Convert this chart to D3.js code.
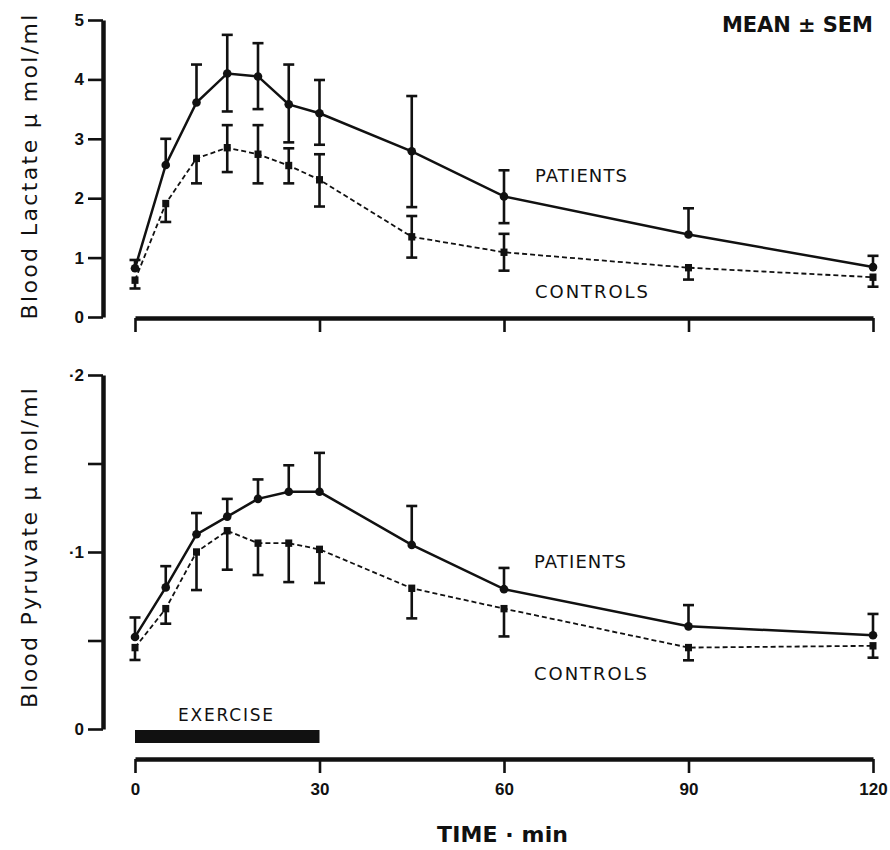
<!DOCTYPE html>
<html>
<head>
<meta charset="utf-8">
<script src="https://cdn.jsdelivr.net/npm/d3@7"></script>
<style>
  body { margin: 0; background: #fff; }
  svg text { font-family: "Liberation Sans", Arial, Helvetica, sans-serif; fill: #111; }
  svg text.wide { font-family: "DejaVu Sans", "Liberation Sans", Arial, sans-serif; }
</style>
</head>
<body>
<svg class="main" width="890" height="850"></svg>
<script>
// sampling times (min)
var times = [0, 5, 10, 15, 20, 25, 30, 45, 60, 90, 120]
var timeTicks = [0, 30, 60, 90, 120]

// blood lactate, umol/ml (mean, error bar up / down as drawn)
var lactatePatients     = [0.82, 2.56, 3.61, 4.10, 4.05, 3.58, 3.43, 2.79, 2.03, 1.39, 0.84]
var lactatePatientsUp   = [0.14, 0.44, 0.64, 0.65, 0.56, 0.67, 0.56, 0.93, 0.44, 0.44, 0.19]
var lactatePatientsDown = [0, 0, 0, 0.64, 0.55, 0.64, 0.53, 0.94, 0.45, 0, 0]
var lactateControls     = [0.62, 1.91, 2.67, 2.85, 2.74, 2.55, 2.31, 1.35, 1.09, 0.83, 0.67]
var lactateControlsUp   = [0, 0, 0, 0.38, 0.49, 0.29, 0.43, 0.35, 0.31, 0, 0]
var lactateControlsDown = [0.14, 0.31, 0.42, 0.41, 0.49, 0.30, 0.45, 0.35, 0.31, 0.20, 0.16]
var lactateTicks = [0, 1, 2, 3, 4, 5]

// blood pyruvate, umol/ml
var pyruvatePatients     = [0.052, 0.080, 0.110, 0.120, 0.130, 0.134, 0.134, 0.104, 0.079, 0.058, 0.053]
var pyruvatePatientsUp   = [0.011, 0.012, 0.012, 0.010, 0.011, 0.015, 0.022, 0.022, 0.012, 0.012, 0.012]
var pyruvateControls     = [0.046, 0.068, 0.100, 0.112, 0.105, 0.105, 0.1015, 0.0795, 0.068, 0.046, 0.047]
var pyruvateControlsDown = [0.007, 0.0085, 0.0215, 0.022, 0.018, 0.022, 0.019, 0.017, 0.0157, 0.0072, 0.0067]
var pyruvateTicks = [0, 0.05, 0.1, 0.15, 0.2]
var pyruvateTickLabels = ['0', '', '·1', '', '·2']

var svg = d3.select('svg.main')

// scales
const xScale = d3.scaleLinear().domain([0, 120]).range([135, 873])
const yLac = d3.scaleLinear().domain([0, 5]).range([317, 20])
const yPyr = d3.scaleLinear().domain([0, 0.2]).range([729, 375])

function styleAxis(g, domainWidth) {
  g.selectAll('.domain').attr('stroke', '#111').attr('stroke-width', domainWidth)
  g.selectAll('.tick line').attr('stroke', '#111').attr('stroke-width', 2.6)
  g.selectAll('.tick text')
    .attr('fill', '#111')
    .attr('font-size', 17)
    .attr('font-weight', 'bold')
}

// y axes
var yAxisTop = svg.append('g')
  .attr('transform', 'translate(103,0)')
  .call(d3.axisLeft(yLac).tickValues(lactateTicks).tickSize(15).tickSizeOuter(0).tickPadding(4)
    .tickFormat(d3.format('d')))
styleAxis(yAxisTop, 4.5)

var yAxisBot = svg.append('g')
  .attr('transform', 'translate(103,0)')
  .call(d3.axisLeft(yPyr).tickValues(pyruvateTicks).tickSize(15).tickSizeOuter(0).tickPadding(4)
    .tickFormat((d, i) => pyruvateTickLabels[i]))
styleAxis(yAxisBot, 4.5)

// x axes
var xAxisTop = svg.append('g')
  .attr('transform', 'translate(0,318)')
  .call(d3.axisBottom(xScale).tickValues(timeTicks).tickSize(14).tickSizeOuter(0).tickFormat(''))
styleAxis(xAxisTop, 4.5)

var xAxisBot = svg.append('g')
  .attr('transform', 'translate(0,759)')
  .call(d3.axisBottom(xScale).tickValues(timeTicks).tickSize(14).tickSizeOuter(0).tickPadding(10))
styleAxis(xAxisBot, 4.5)

// exercise bar (0 - 30 min)
svg.append('rect')
  .attr('x', xScale(0))
  .attr('y', 730)
  .attr('width', xScale(30) - xScale(0))
  .attr('height', 13)
  .attr('fill', '#111')

// draw one series with error bars
function drawSeries(yScale, means, up, down, dashed, marker) {
  var pts = times.map((t, i) => ({t: t, v: means[i], up: up ? up[i] : 0, down: down ? down[i] : 0}))
  var g = svg.append('g')

  g.append('path')
    .datum(pts)
    .attr('fill', 'none')
    .attr('stroke', '#111')
    .attr('stroke-width', dashed ? 1.8 : 2.5)
    .attr('stroke-dasharray', dashed ? '5,3' : null)
    .attr('d', d3.line().x(d => xScale(d.t)).y(d => yScale(d.v)))

  // error bars
  var eb = g.selectAll('g.err').data(pts).join('g').attr('class', 'err')
  eb.filter(d => d.up > 0).append('line')
    .attr('x1', d => xScale(d.t)).attr('x2', d => xScale(d.t))
    .attr('y1', d => yScale(d.v)).attr('y2', d => yScale(d.v + d.up))
  eb.filter(d => d.up > 0).append('line')
    .attr('x1', d => xScale(d.t) - 5.5).attr('x2', d => xScale(d.t) + 5.5)
    .attr('y1', d => yScale(d.v + d.up)).attr('y2', d => yScale(d.v + d.up))
  eb.filter(d => d.down > 0).append('line')
    .attr('x1', d => xScale(d.t)).attr('x2', d => xScale(d.t))
    .attr('y1', d => yScale(d.v)).attr('y2', d => yScale(d.v - d.down))
  eb.filter(d => d.down > 0).append('line')
    .attr('x1', d => xScale(d.t) - 5.5).attr('x2', d => xScale(d.t) + 5.5)
    .attr('y1', d => yScale(d.v - d.down)).attr('y2', d => yScale(d.v - d.down))
  eb.selectAll('line').attr('stroke', '#111').attr('stroke-width', 2.6)

  // markers
  if (marker == 'circle') {
    g.selectAll('circle').data(pts).join('circle')
      .attr('cx', d => xScale(d.t)).attr('cy', d => yScale(d.v))
      .attr('r', 4.3).attr('fill', '#111')
  } else {
    g.selectAll('rect').data(pts).join('rect')
      .attr('x', d => xScale(d.t) - 3.5).attr('y', d => yScale(d.v) - 3.7)
      .attr('width', 7).attr('height', 7.4).attr('fill', '#111')
  }
}

drawSeries(yLac, lactatePatients, lactatePatientsUp, lactatePatientsDown, false, 'circle')
drawSeries(yLac, lactateControls, lactateControlsUp, lactateControlsDown, true, 'square')
drawSeries(yPyr, pyruvatePatients, pyruvatePatientsUp, null, false, 'circle')
drawSeries(yPyr, pyruvateControls, null, pyruvateControlsDown, true, 'square')

// labels
function label(txt, x, y, size, weight, len, cls) {
  return svg.append('text')
    .attr('class', cls || null)
    .attr('x', x).attr('y', y)
    .attr('font-size', size)
    .attr('font-weight', weight)
    .attr('textLength', len)
    .attr('lengthAdjust', 'spacing')
    .text(txt)
}

label('MEAN ± SEM', 722, 32, 21, 'bold', 151, 'wide')
label('PATIENTS', 535, 182, 18, 'normal', 92, 'wide')
label('CONTROLS', 535, 298, 18, 'normal', 113, 'wide')
label('PATIENTS', 534, 568, 18, 'normal', 92, 'wide')
label('CONTROLS', 534, 680, 18, 'normal', 113, 'wide')
label('EXERCISE', 178, 721, 17, 'normal', 95, 'wide')
label('TIME · min', 437, 842, 22, 'bold', 131, 'wide')

svg.append('text')
  .attr('class', 'wide')
  .attr('transform', 'translate(37,167) rotate(-90)')
  .attr('text-anchor', 'middle')
  .attr('font-size', 22)
  .attr('textLength', 305)
  .attr('lengthAdjust', 'spacing')
  .text('Blood Lactate  μ mol/ml')

svg.append('text')
  .attr('class', 'wide')
  .attr('transform', 'translate(37,548) rotate(-90)')
  .attr('text-anchor', 'middle')
  .attr('font-size', 22)
  .attr('textLength', 320)
  .attr('lengthAdjust', 'spacing')
  .text('Blood Pyruvate  μ mol/ml')
</script>
</body>
</html>
